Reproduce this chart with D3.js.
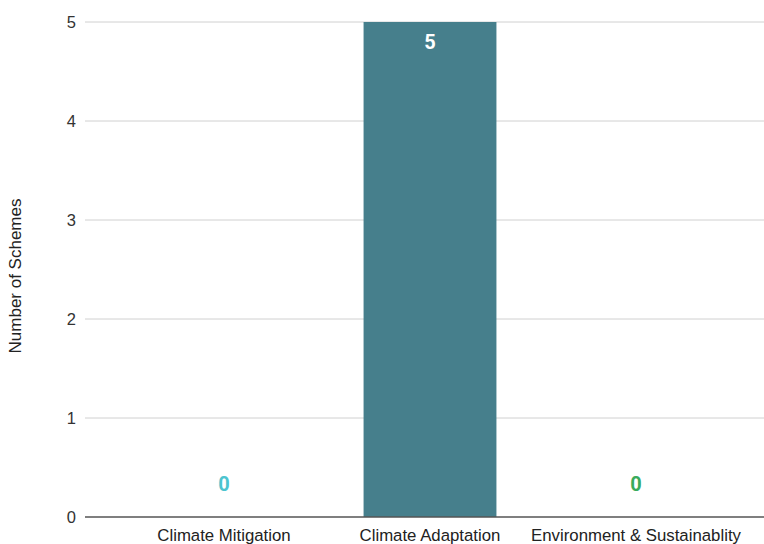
<!DOCTYPE html>
<html><head><meta charset="utf-8">
<script src="https://cdn.jsdelivr.net/npm/d3@7"></script>
<style>body{margin:0;background:#fff}text{font-family:"Liberation Sans",Arial,sans-serif}</style>
</head><body><svg id="c" width="764" height="544"></svg>
<script>
const categories = ["Climate Mitigation", "Climate Adaptation", "Environment & Sustainablity"];
const values = [0, 5, 0];
const labelColors = ["#4dc4cf", "#ffffff", "#3aab5c"];
const barColor = "#467f8c";
const yTicks = [0, 1, 2, 3, 4, 5];
const yTitle = "Number of Schemes";

const svg = d3.select("#c");
const mLeft = 85, mRight = 764, mTop = 22, mBottom = 517;
const x = d3.scaleBand().domain(categories).range([121, 739]).paddingInner(0.355).paddingOuter(0.1775);
const y = d3.scaleLinear().domain([0, 5]).range([mBottom, mTop]);

// gridlines
svg.append("g").selectAll("line").data(yTicks.filter(t => t > 0)).join("line")
  .attr("x1", mLeft).attr("x2", mRight)
  .attr("y1", d => y(d)).attr("y2", d => y(d))
  .attr("stroke", "#d0d0d0").attr("stroke-width", 1);

// y tick labels
svg.append("g").selectAll("text").data(yTicks).join("text")
  .attr("x", 76).attr("y", d => y(d)).attr("dy", "0.35em")
  .attr("text-anchor", "end").attr("font-size", 16.5).attr("fill", "#333")
  .text(d => d);

// bars
svg.append("g").selectAll("rect").data(values).join("rect")
  .attr("x", (d, i) => x(categories[i])).attr("width", x.bandwidth())
  .attr("y", d => y(d)).attr("height", d => y(0) - y(d))
  .attr("fill", barColor);

// baseline
svg.append("line").attr("x1", mLeft).attr("x2", mRight).attr("y1", y(0)).attr("y2", y(0))
  .attr("stroke", "#555").attr("stroke-width", 1.5);

// value labels
svg.append("g").selectAll("text").data(values).join("text")
  .attr("x", (d, i) => x(categories[i]) + x.bandwidth() / 2)
  .attr("y", d => d > 0 ? y(d) + 20 : y(0) - 33)
  .attr("dy", "0.35em")
  .attr("text-anchor", "middle").attr("font-size", 20).attr("font-weight", "bold")
  .style("font-family", "Roboto, sans-serif")
  .attr("fill", (d, i) => labelColors[i])
  .text(d => d);

// x labels
svg.append("g").selectAll("text").data(categories).join("text")
  .attr("x", d => x(d) + x.bandwidth() / 2).attr("y", 535)
  .attr("dy", "0.35em")
  .attr("text-anchor", "middle").attr("font-size", 16.8).attr("fill", "#222")
  .text(d => d);

// y title
svg.append("text").attr("transform", `translate(15,276) rotate(-90)`)
  .attr("text-anchor", "middle").attr("dy", "0.35em").attr("font-size", 17).attr("fill", "#222")
  .text(yTitle);
</script></body></html>
